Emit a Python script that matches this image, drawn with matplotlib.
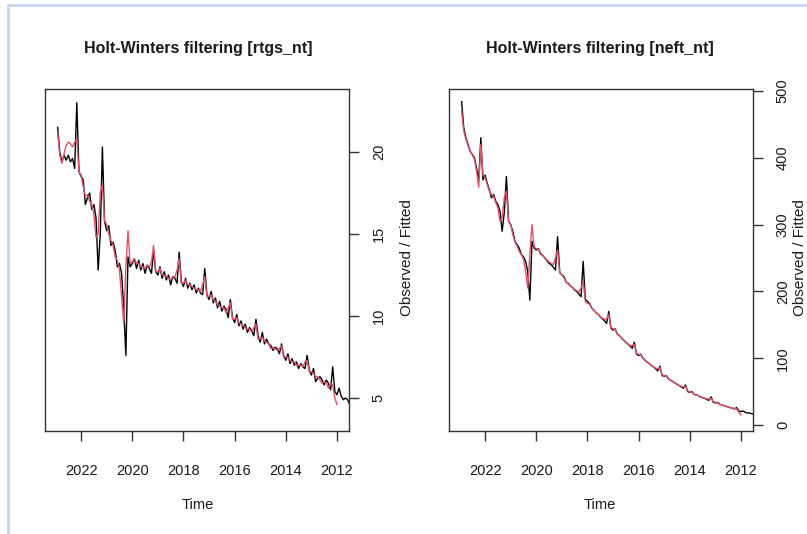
import numpy as np
import matplotlib
matplotlib.use("Agg")
import matplotlib.pyplot as plt
from matplotlib.lines import Line2D

plt.rcParams['font.family'] = ['Liberation Sans', 'DejaVu Sans']

# ---------------- data (monthly, observed from Jan 2011, fitted from Jan 2012) ----------------
obs_start = 2011
fit_start = 2012

rtgs_obs = [
    4.0, 4.2, 4.6, 4.5, 4.7, 4.8, 4.6, 4.9, 5.0, 4.9, 5.1, 5.6,
    5.2, 5.4, 6.9, 5.5, 5.9, 6.1, 5.8, 6.1, 6.3, 6.2, 6.0, 6.8,
    6.4, 6.7, 7.6, 6.8, 6.9, 7.1, 6.8, 7.2, 7.0, 7.4, 7.1, 7.7,
    7.3, 7.6, 8.3, 7.7, 8.0, 8.1, 7.9, 8.2, 8.3, 8.6, 8.3, 9.0,
    8.4, 8.8, 9.8, 8.8, 9.1, 9.3, 9.0, 9.5, 9.2, 9.7, 9.4, 10.1,
    9.6, 9.9, 11.0, 9.9, 10.4, 10.6, 10.3, 10.9, 10.5, 11.1, 10.8, 11.5,
    11.0, 11.3, 12.9, 11.3, 11.4, 11.7, 11.4, 11.9, 11.6, 12.0, 11.7, 12.3,
    11.8, 12.1, 13.9, 12.0, 12.3, 12.4, 11.9, 12.5, 12.2, 12.7, 12.3, 13.0,
    12.5, 12.7, 14.0, 12.6, 12.9, 13.1, 12.6, 13.2, 12.8, 13.4, 12.9, 13.5,
    13.2, 13.0, 13.6, 7.6, 10.5, 12.6, 13.2, 13.0, 14.0, 14.5, 14.3, 15.5,
    15.2, 15.8, 20.3, 15.0, 12.8, 16.0, 16.8, 16.5, 17.5, 17.2, 16.8, 18.3,
    18.5, 18.8, 23.0, 19.0, 19.6, 19.4, 19.8, 19.5, 19.8, 19.4, 20.0, 21.5,
]
rtgs_fit = [
    4.6, 5.0, 5.8, 5.9, 5.6, 5.9, 6.0, 5.9, 6.1, 6.3, 6.3, 6.5,
    6.6, 6.6, 7.3, 7.2, 6.9, 7.0, 7.0, 7.0, 7.2, 7.2, 7.3, 7.5,
    7.5, 7.5, 8.2, 8.0, 7.9, 8.0, 8.1, 8.0, 8.3, 8.4, 8.5, 8.7,
    8.6, 8.6, 9.5, 9.3, 9.0, 9.2, 9.2, 9.3, 9.4, 9.5, 9.6, 9.9,
    9.8, 9.8, 10.8, 10.5, 10.2, 10.5, 10.5, 10.6, 10.7, 10.9, 11.0, 11.3,
    11.2, 11.2, 12.4, 11.9, 11.5, 11.6, 11.6, 11.7, 11.8, 11.9, 11.9, 12.2,
    12.0, 12.0, 13.5, 12.8, 12.4, 12.4, 12.2, 12.3, 12.4, 12.5, 12.5, 12.9,
    12.7, 12.7, 14.3, 13.3, 13.0, 13.1, 12.9, 13.0, 13.0, 13.2, 13.2, 13.5,
    13.3, 13.2, 15.2, 13.0, 9.5, 11.2, 12.8, 13.4, 13.6, 14.3, 14.6, 15.0,
    15.6, 15.8, 18.0, 17.5, 15.0, 14.8, 16.2, 16.8, 17.0, 17.4, 17.3, 17.9,
    18.6, 18.8, 20.8, 20.6, 20.3, 20.5, 20.6, 20.4, 19.9, 19.3, 19.8, 21.2,
]

neft_obs = [
    12, 13, 16, 14, 15, 16, 16, 17, 18, 18, 19, 21,
    20, 21, 26, 24, 25, 26, 27, 28, 29, 30, 31, 34,
    33, 34, 42, 37, 38, 40, 41, 42, 44, 45, 46, 50,
    49, 50, 60, 55, 57, 59, 61, 63, 65, 67, 69, 74,
    73, 74, 88, 81, 84, 87, 89, 92, 94, 97, 100, 106,
    104, 106, 124, 115, 118, 121, 124, 127, 130, 134, 136, 144,
    142, 145, 170, 152, 156, 159, 162, 166, 168, 172, 175, 182,
    185, 188, 245, 192, 196, 200, 202, 206, 208, 212, 214, 222,
    225, 228, 282, 232, 236, 240, 242, 246, 250, 254, 256, 264,
    262, 265, 275, 187, 230, 245, 252, 255, 265, 270, 275, 290,
    300, 305, 372, 318, 290, 320, 330, 335, 345, 340, 352, 362,
    374, 367, 430, 365, 385, 400, 405, 410, 420, 430, 445, 484,
]
neft_fit = [
    15, 19, 24, 25, 25, 26, 27, 28, 29, 30, 31, 33,
    34, 35, 40, 39, 39, 40, 41, 42, 44, 45, 46, 49,
    50, 51, 58, 57, 58, 59, 61, 63, 65, 67, 69, 73,
    74, 75, 86, 84, 85, 87, 89, 92, 94, 97, 100, 105,
    106, 107, 121, 119, 119, 121, 124, 127, 130, 134, 136, 143,
    144, 146, 165, 159, 158, 160, 162, 166, 168, 172, 175, 181,
    182, 185, 215, 205, 199, 201, 203, 206, 208, 211, 214, 220,
    225, 228, 262, 250, 240, 242, 244, 247, 250, 254, 257, 263,
    264, 267, 300, 255, 205, 230, 248, 255, 260, 268, 274, 285,
    300, 305, 350, 340, 310, 305, 325, 333, 342, 345, 350, 360,
    370, 375, 420, 356, 380, 398, 404, 410, 418, 428, 440, 470,
]

titles = ["Holt-Winters filtering [rtgs_nt]", "Holt-Winters filtering [neft_nt]"]
year_ticks = [2012, 2014, 2016, 2018, 2020, 2022]
rtgs_yticks = [5, 10, 15, 20]
neft_yticks = [0, 100, 200, 300, 400, 500]
ylab = "Observed / Fitted"
xlab = "Time"

# ---------------- figure ----------------
W, H = 807, 534
fig = plt.figure(figsize=(W / 100, H / 100), dpi=100)
fig.patch.set_facecolor("white")

def add_ax(l, t, r, b):
    return fig.add_axes([l / W, 1 - b / H, (r - l) / W, (b - t) / H])

RED = "#DF536B"
TXT = "#1a1a1a"
panels = [
    (add_ax(45, 89, 349, 431), rtgs_obs, rtgs_fit, rtgs_yticks, (2.99, 23.84), titles[0], 198, 407),
    (add_ax(449, 89, 753, 431), neft_obs, neft_fit, neft_yticks, (-9, 503), titles[1], 600, 800),
]

for ax, obs, fit, yt, ylim, title, cx, ylx in panels:
    t_obs = obs_start + np.arange(len(obs)) / 12.0
    t_fit = fit_start + np.arange(len(fit)) / 12.0
    ax.plot(t_obs, obs, color="black", lw=1.0)
    ax.plot(t_fit, fit, color=RED, lw=1.0)
    ax.set_xlim(2023.41, 2011.53)
    ax.set_ylim(*ylim)
    ax.set_xticks(year_ticks)
    ax.set_xticklabels([str(y) for y in year_ticks])
    ax.set_yticks(yt)
    ax.set_yticklabels([str(v) for v in yt], rotation=90, va="center")
    ax.yaxis.tick_right()
    for s in ax.spines.values():
        s.set_linewidth(1.0)
        s.set_color("#333333")
    ax.tick_params(axis="both", direction="out", length=7.5, width=1.0, colors="#333333",
                   labelcolor=TXT, labelsize=10.5)
    ax.tick_params(axis="x", pad=16)
    ax.tick_params(axis="y", pad=9)
    fig.text(cx / W, 1 - 48 / H, title, ha="center", va="center",
             fontsize=11.5, fontweight="bold", color=TXT)
    fig.text(cx / W, 1 - 505 / H, xlab, ha="center", va="center", fontsize=10.5, color=TXT)
    fig.text(ylx / W, 1 - 258 / H, ylab, ha="center", va="center", rotation=90,
             fontsize=11, color=TXT)

# screenshot frame
frame = "#c6d6f2"
fig.add_artist(Line2D([8 / W, 8 / W], [0, 1 - 5 / H], transform=fig.transFigure, color=frame, lw=2))
fig.add_artist(Line2D([8 / W, 1], [1 - 5 / H, 1 - 5 / H], transform=fig.transFigure, color=frame, lw=2))

fig.savefig("out.png", dpi=100)
